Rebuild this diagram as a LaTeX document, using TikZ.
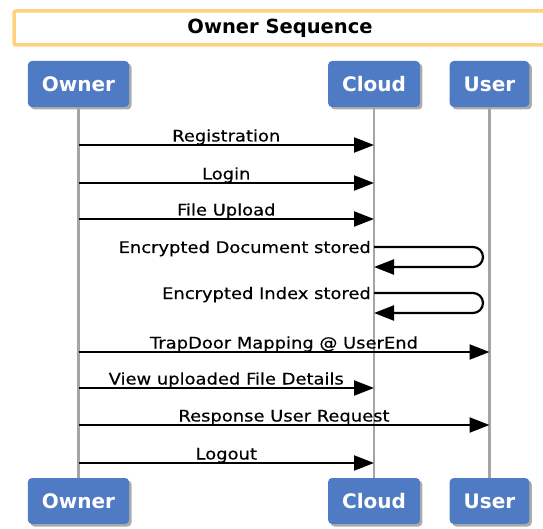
\documentclass[tikz,border=0pt]{standalone}
\usepackage{fontspec}
\setmainfont{DejaVu Sans}
\newfontfamily\msgfont[FakeStretch=1.12,FakeBold=0.4]{DejaVu Sans}
\usetikzlibrary{arrows.meta,shadows}

\definecolor{actorblue}{RGB}{79,122,196}
\definecolor{titleorange}{RGB}{255,210,128}
\definecolor{lifegray}{RGB}{165,165,165}

\tikzset{
  actor/.style={rectangle, rounded corners=4pt, fill=actorblue, text=white,
    minimum height=46pt, inner xsep=14pt,
    font=\bfseries\fontsize{20}{24}\selectfont,
    drop shadow={shadow xshift=2.5pt, shadow yshift=-2.5pt, fill=black!60, opacity=.55}},
  lifeline/.style={draw=lifegray, line width=2.8pt},
  msg/.style={draw=black, line width=2.2pt, -{Triangle[length=20pt,width=15pt]}},
  lbl/.style={anchor=base, yshift=3.5pt, inner sep=0pt, font=\msgfont\fontsize{16}{19}\selectfont},
  selflbl/.style={anchor=base east, yshift=-6pt, xshift=-3pt, inner sep=0pt, font=\msgfont\fontsize{16}{19}\selectfont},
}

\begin{document}
\begin{tikzpicture}[x=1pt,y=-1pt]
  \useasboundingbox (0,0) rectangle (543,529);
  \clip (0,0) rectangle (543,529);

  % title bar
  \draw[titleorange, line width=3.5pt, rounded corners=2pt, fill=white] (14,11) rectangle (570,45);
  \node[anchor=base, font=\bfseries\fontsize{19.5}{22}\selectfont] (title) at (280,33.3) {Owner Sequence};

  % actors, top and bottom
  \node[actor] (owner)  at (78.5,84)  {Owner};
  \node[actor] (cloud)  at (374,84)   {Cloud};
  \node[actor] (user)   at (489.5,84) {User};
  \node[actor] (owner2) at (78.5,501) {Owner};
  \node[actor] (cloud2) at (374,501)  {Cloud};
  \node[actor] (user2)  at (489.5,501) {User};

  % lifelines
  \path[lifeline] (owner) -- (owner2);
  \path[lifeline] (cloud) -- (cloud2);
  \path[lifeline] (user)  -- (user2);

  % message end points
  \coordinate (reg-o)   at (owner |- 0,145);
  \coordinate (reg-c)   at (cloud |- 0,145);
  \coordinate (login-o) at (owner |- 0,183);
  \coordinate (login-c) at (cloud |- 0,183);
  \coordinate (up-o)    at (owner |- 0,219);
  \coordinate (up-c)    at (cloud |- 0,219);
  \coordinate (doc-a)   at (cloud |- 0,247);
  \coordinate (doc-b)   at (cloud |- 0,267);
  \coordinate (idx-a)   at (cloud |- 0,293);
  \coordinate (idx-b)   at (cloud |- 0,313);
  \coordinate (trap-o)  at (owner |- 0,352);
  \coordinate (trap-u)  at (user  |- 0,352);
  \coordinate (view-o)  at (owner |- 0,388);
  \coordinate (view-c)  at (cloud |- 0,388);
  \coordinate (resp-o)  at (owner |- 0,425);
  \coordinate (resp-u)  at (user  |- 0,425);
  \coordinate (out-o)   at (owner |- 0,463);
  \coordinate (out-c)   at (cloud |- 0,463);

  % messages
  \draw[msg] (reg-o)   -- node[lbl] {Registration} (reg-c);
  \draw[msg] (login-o) -- node[lbl] {Login} (login-c);
  \draw[msg] (up-o)    -- node[lbl] {File Upload} (up-c);

  \draw[msg, rounded corners=10pt] (doc-a) -- (483,247) -- (483,267) -- (doc-b);
  \node[selflbl] (doclbl) at (doc-a) {Encrypted Document stored};
  \draw[msg, rounded corners=10pt] (idx-a) -- (483,293) -- (483,313) -- (idx-b);
  \node[selflbl] (idxlbl) at (idx-a) {Encrypted Index stored};

  \draw[msg] (trap-o) -- node[lbl] {TrapDoor Mapping @ UserEnd} (trap-u);
  \draw[msg] (view-o) -- node[lbl] {View uploaded File Details} (view-c);
  \draw[msg] (resp-o) -- node[lbl] {Response User Request} (resp-u);
  \draw[msg] (out-o)  -- node[lbl] {Logout} (out-c);

\end{tikzpicture}
\end{document}
